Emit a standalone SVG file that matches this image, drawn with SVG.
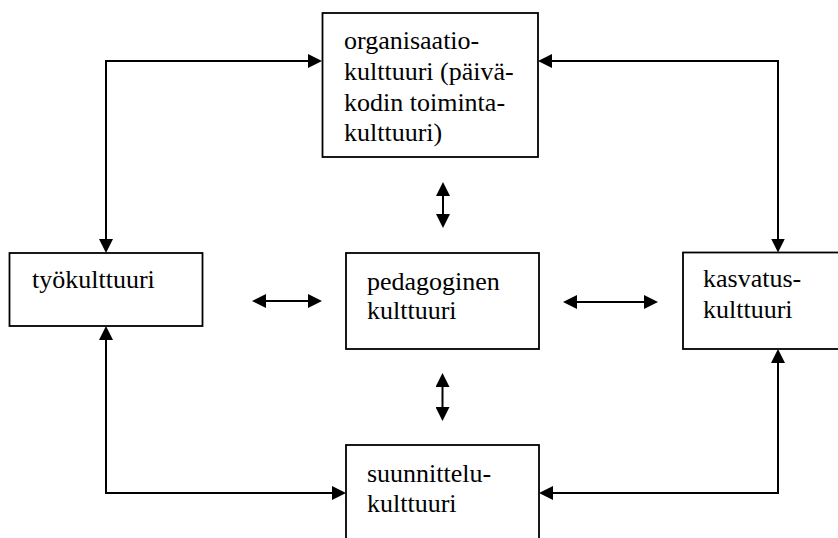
<svg xmlns="http://www.w3.org/2000/svg" width="838" height="538" viewBox="0 0 838 538">
  <style>
    .box { fill: #ffffff; stroke: #000000; stroke-width: 1.8; }
    .lbl { font-family: "Liberation Serif", "Times New Roman", serif; font-size: 26px; fill: #000000; }
    .con { fill: none; stroke: #000000; stroke-width: 2; marker-start: url(#ah); marker-end: url(#ah); }
  </style>
  <defs>
    <marker id="ah" markerUnits="userSpaceOnUse" markerWidth="14" markerHeight="14" viewBox="0 0 14 14" refX="8" refY="7" orient="auto-start-reverse">
      <path d="M0,0 L14,7 L0,14 Z" fill="#000000"/>
    </marker>
  </defs>
  <rect width="838" height="538" fill="#ffffff"/>

  <g id="connectors">
    <path class="con" d="M316,61 H106 V247"/>
    <path class="con" d="M544,61 H778 V246.5"/>
    <path class="con" d="M106,332 V493 H340"/>
    <path class="con" d="M778,355 V493 H545"/>
    <path class="con" d="M443,188 V222"/>
    <path class="con" d="M442.5,379 V415"/>
    <path class="con" d="M258,301 H316"/>
    <path class="con" d="M569,302 H652"/>
  </g>

  <g id="node-organisaatio">
    <rect class="box" x="322.5" y="13" width="215.5" height="144"/>
    <text class="lbl" x="344" y="49">organisaatio-</text>
    <text class="lbl" x="344" y="80">kulttuuri (päivä-</text>
    <text class="lbl" x="344" y="110.5">kodin toiminta-</text>
    <text class="lbl" x="344" y="141">kulttuuri)</text>
  </g>

  <g id="node-tyokulttuuri">
    <rect class="box" x="9.5" y="253" width="193" height="73"/>
    <text class="lbl" x="32" y="288">työkulttuuri</text>
  </g>

  <g id="node-pedagoginen">
    <rect class="box" x="346" y="253" width="193" height="96"/>
    <text class="lbl" x="367" y="290">pedagoginen</text>
    <text class="lbl" x="367" y="319">kulttuuri</text>
  </g>

  <g id="node-kasvatus">
    <rect class="box" x="683" y="252.5" width="170" height="96.5"/>
    <text class="lbl" x="703" y="286.5">kasvatus-</text>
    <text class="lbl" x="703" y="318">kulttuuri</text>
  </g>

  <g id="node-suunnittelu">
    <rect class="box" x="346" y="445" width="193" height="110"/>
    <text class="lbl" x="367" y="481.5">suunnittelu-</text>
    <text class="lbl" x="367" y="511.5">kulttuuri</text>
  </g>
</svg>
